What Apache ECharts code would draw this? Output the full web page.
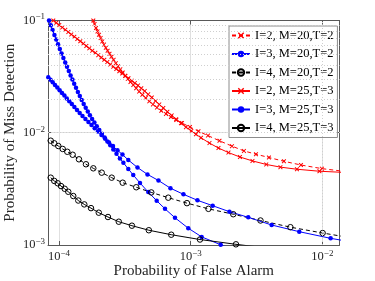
<!DOCTYPE html>
<html><head><meta charset="utf-8">
<script src="https://cdn.jsdelivr.net/npm/echarts@6/dist/echarts.min.js"></script>
<style>html,body{margin:0;padding:0;background:#fff}#c{width:375px;height:281px}</style>
</head><body><div id="c"></div>
<script>
// ---------- data ----------
const seriesNames = ['I=2, M=20,T=2', 'I=3, M=20,T=2', 'I=4, M=20,T=2', 'I=2, M=25,T=3', 'I=3, M=25,T=3', 'I=4, M=25,T=3'];

const pfa_I2M20T2 = [1.822e-4,1.863e-4,1.910e-4,1.960e-4,2.012e-4,2.070e-4,2.132e-4,2.197e-4,2.267e-4,2.339e-4,2.418e-4,2.504e-4,2.597e-4,2.700e-4,2.806e-4,2.921e-4,3.045e-4,3.182e-4,3.330e-4,3.490e-4,3.665e-4,3.856e-4,4.064e-4,4.298e-4,4.561e-4,4.850e-4,5.172e-4,5.548e-4,5.982e-4,6.494e-4,7.086e-4,7.775e-4,8.590e-4,9.878e-4,1.146e-3,1.353e-3,1.655e-3,2.059e-3,2.539e-3,3.132e-3,3.930e-3,5.109e-3,6.879e-3,9.930e-3,1.484e-2];
const pmd_I2M20T2 = [1.000e-1,9.29e-2,8.575e-2,8.00e-2,7.47e-2,6.97e-2,6.51e-2,6.10e-2,5.71e-2,5.38e-2,5.06e-2,4.75e-2,4.46e-2,4.17e-2,3.92e-2,3.67e-2,3.44e-2,3.22e-2,3.02e-2,2.83e-2,2.66e-2,2.49e-2,2.325e-2,2.18e-2,2.04e-2,1.906e-2,1.789e-2,1.675e-2,1.569e-2,1.472e-2,1.380e-2,1.299e-2,1.221e-2,1.125e-2,1.031e-2,9.43e-3,8.48e-3,7.60e-3,6.89e-3,6.44e-3,6.02e-3,5.57e-3,5.16e-3,4.79e-3,4.52e-3];

const pfa_I3M20T2 = [8.40e-5,8.66e-5,8.94e-5,9.23e-5,9.52e-5,9.83e-5,1.014e-4,1.046e-4,1.080e-4,1.115e-4,1.150e-4,1.187e-4,1.225e-4,1.264e-4,1.304e-4,1.346e-4,1.391e-4,1.439e-4,1.487e-4,1.540e-4,1.595e-4,1.654e-4,1.717e-4,1.784e-4,1.857e-4,1.936e-4,2.023e-4,2.117e-4,2.220e-4,2.331e-4,2.452e-4,2.584e-4,2.733e-4,2.900e-4,3.083e-4,3.359e-4,3.665e-4,4.121e-4,4.765e-4,5.520e-4,6.380e-4,7.600e-4,9.589e-4,1.212e-3,1.690e-3,2.495e-3];
const pmd_I3M20T2 = [1.000e-1,9.06e-2,8.21e-2,7.44e-2,6.76e-2,6.14e-2,5.57e-2,5.08e-2,4.63e-2,4.23e-2,3.87e-2,3.54e-2,3.24e-2,2.98e-2,2.735e-2,2.520e-2,2.311e-2,2.121e-2,1.961e-2,1.807e-2,1.668e-2,1.546e-2,1.430e-2,1.328e-2,1.234e-2,1.144e-2,1.059e-2,9.81e-3,9.09e-3,8.37e-3,7.72e-3,7.09e-3,6.49e-3,5.91e-3,5.40e-3,4.76e-3,4.20e-3,3.57e-3,2.96e-3,2.48e-3,2.10e-3,1.749e-3,1.411e-3,1.181e-3,1.005e-3,8.66e-4];

const pfa_I4M20T2 = [8.65e-5,9.21e-5,9.88e-5,1.067e-4,1.156e-4,1.27e-4,1.418e-4,1.603e-4,1.822e-4,2.11e-4,2.513e-4,3.047e-4,3.86e-4,5.02e-4,6.76e-4,9.37e-4,1.365e-3,2.106e-3,3.39e-3,5.72e-3,1.005e-2,1.864e-2];
const pmd_I4M20T2 = [8.50e-3,8.05e-3,7.62e-3,7.17e-3,6.77e-3,6.37e-3,5.80e-3,5.24e-3,4.82e-3,4.41e-3,3.98e-3,3.59e-3,3.27e-3,2.94e-3,2.64e-3,2.36e-3,2.10e-3,1.88e-3,1.653e-3,1.441e-3,1.279e-3,1.131e-3];

const pfa_I2M25T3 = [9.05e-5,9.54e-5,1.005e-4,1.059e-4,1.116e-4,1.177e-4,1.240e-4,1.307e-4,1.377e-4,1.451e-4,1.529e-4,1.612e-4,1.699e-4,1.790e-4,1.887e-4,1.988e-4,2.095e-4,2.208e-4,2.327e-4,2.452e-4,2.584e-4,2.723e-4,2.870e-4,3.024e-4,3.193e-4,3.371e-4,3.559e-4,3.764e-4,3.980e-4,4.216e-4,4.475e-4,4.757e-4,5.066e-4,5.405e-4,5.774e-4,6.194e-4,6.654e-4,7.174e-4,7.762e-4,8.440e-4,9.211e-4,1.011e-3,1.097e-3,1.198e-3,1.389e-3,1.626e-3,1.936e-3,2.367e-3,2.947e-3,3.750e-3,4.806e-3,6.414e-3,9.506e-3,1.484e-2];
const pmd_I2M25T3 = [1.000e-1,9.54e-2,9.10e-2,8.68e-2,8.26e-2,7.88e-2,7.52e-2,7.17e-2,6.84e-2,6.53e-2,6.23e-2,5.93e-2,5.65e-2,5.39e-2,5.15e-2,4.91e-2,4.68e-2,4.47e-2,4.26e-2,4.06e-2,3.88e-2,3.70e-2,3.53e-2,3.37e-2,3.21e-2,3.06e-2,2.91e-2,2.77e-2,2.64e-2,2.49e-2,2.35e-2,2.20e-2,2.06e-2,1.92e-2,1.789e-2,1.662e-2,1.540e-2,1.427e-2,1.320e-2,1.216e-2,1.121e-2,1.036e-2,9.69e-3,9.02e-3,8.09e-3,7.31e-3,6.66e-3,6.08e-3,5.61e-3,5.22e-3,4.94e-3,4.73e-3,4.54e-3,4.43e-3];

const pfa_I3M25T3 = [8.29e-5,8.62e-5,8.96e-5,9.32e-5,9.71e-5,1.011e-4,1.054e-4,1.099e-4,1.146e-4,1.197e-4,1.251e-4,1.309e-4,1.370e-4,1.436e-4,1.508e-4,1.587e-4,1.673e-4,1.766e-4,1.866e-4,1.978e-4,2.102e-4,2.243e-4,2.397e-4,2.571e-4,2.781e-4,3.035e-4,3.359e-4,3.946e-4,4.699e-4,5.695e-4,7.024e-4,8.816e-4,1.126e-3,1.469e-3,1.970e-3,2.737e-3,4.121e-3,6.677e-3,1.156e-2,2.143e-2];
const pmd_I3M25T3 = [3.119e-2,2.962e-2,2.814e-2,2.668e-2,2.525e-2,2.393e-2,2.265e-2,2.143e-2,2.023e-2,1.910e-2,1.800e-2,1.692e-2,1.595e-2,1.496e-2,1.407e-2,1.326e-2,1.247e-2,1.172e-2,1.098e-2,1.028e-2,9.55e-3,8.834e-3,8.188e-3,7.604e-3,6.979e-3,6.389e-3,5.717e-3,4.901e-3,4.256e-3,3.754e-3,3.206e-3,2.829e-3,2.501e-3,2.239e-3,1.980e-3,1.765e-3,1.507e-3,1.314e-3,1.147e-3,1.010e-3];

const pfa_I4M25T3 = [8.65e-5,9.21e-5,9.77e-5,1.036e-4,1.104e-4,1.176e-4,1.284e-4,1.401e-4,1.556e-4,1.75e-4,2.005e-4,2.355e-4,2.845e-4,3.58e-4,4.81e-4,7.12e-4,1.177e-3,2.208e-3,4.76e-3];
const pmd_I4M25T3 = [3.98e-3,3.72e-3,3.55e-3,3.35e-3,3.17e-3,2.98e-3,2.73e-3,2.49e-3,2.30e-3,2.13e-3,1.94e-3,1.776e-3,1.612e-3,1.486e-3,1.354e-3,1.235e-3,1.119e-3,1.014e-3,9.1e-4];

// axis ranges and grid values
const xRange = [8.25e-5, 1.35e-2];
const yRange = [1e-3, 1e-1];
const xMinorGrid = [9e-5, 2e-4, 3e-4, 4e-4, 5e-4, 6e-4, 7e-4, 8e-4, 9e-4, 2e-3, 3e-3, 4e-3, 5e-3, 6e-3, 7e-3, 8e-3, 9e-3];
const yMinorGrid = [2e-3, 3e-3, 4e-3, 5e-3, 6e-3, 7e-3, 8e-3, 9e-3, 2e-2, 3e-2, 4e-2, 5e-2, 6e-2, 7e-2, 8e-2, 9e-2];
const xTitle = 'Probability of False Alarm';
const yTitle = 'Probability of Miss Detection';

// ---------- chart ----------
const FONT = 'Liberation Serif';
const zip = (a, b) => a.map((v, i) => [v, b[i]]);
const X_SYMBOL = 'path://M0,1.5L1.5,0L5,3.5L8.5,0L10,1.5L6.5,5L10,8.5L8.5,10L5,6.5L1.5,10L0,8.5L3.5,5Z';

function tickFmt(v) {
  const e = Math.log10(v), r = Math.round(e);
  if (Math.abs(e - r) > 1e-6) return '';
  return '{b|10}{s|' + (r < 0 ? '\u2212' + (-r) : r) + '}';
}
const labelRich = {
  b: { fontFamily: FONT, fontSize: 12.5, color: '#262626' },
  s: { fontFamily: FONT, fontSize: 9, color: '#262626', padding: [0, 0, 7, 0] }
};
const axisLineStyle = { color: '#595959', width: 1 };

function mk(name, x, y, color, dashed, kind) {
  const s = {
    name, type: 'line', data: zip(x, y), showAllSymbol: true, animation: false, silent: true,
    lineStyle: { color, width: 1, type: dashed ? [4, 3] : 'solid' },
    clip: true, z: 3
  };
  if (kind === 'x') { s.symbol = X_SYMBOL; s.symbolSize = 4.5; s.itemStyle = { color }; }
  else if (kind === 'dot') { s.symbol = 'circle'; s.symbolSize = 4.5; s.itemStyle = { color }; }
  else { s.symbol = 'circle'; s.symbolSize = 5.5; s.itemStyle = { color: 'rgba(255,255,255,0)', borderColor: color, borderWidth: 1 }; }
  return s;
}

const chart = echarts.init(document.getElementById('c'), null, { renderer: 'canvas' });
chart.setOption({
  animation: false,
  backgroundColor: '#fff',
  grid: { left: 48, right: 35.5, top: 20.5, bottom: 36, show: false, outerBoundsMode: 'none', containLabel: false },
  legend: {
    orient: 'vertical', left: 229, top: 26, itemWidth: 18, itemHeight: 8, itemGap: 5.5,
    padding: [3, 4, 3, 2], backgroundColor: '#fff', borderColor: '#8c8c8c', borderWidth: 1,
    textStyle: { fontFamily: FONT, fontSize: 12.5, color: '#000' },
    data: seriesNames
  },
  xAxis: [
    { type: 'log', min: xRange[0], max: xRange[1], position: 'bottom',
      axisLine: { show: true, lineStyle: axisLineStyle },
      axisTick: { show: true, inside: true, length: 4, lineStyle: axisLineStyle },
      axisLabel: { formatter: tickFmt, rich: labelRich, margin: 4 },
      splitLine: { show: true, lineStyle: { color: '#e0e0e0', width: 1 } },
      name: xTitle, nameLocation: 'middle', nameGap: 19, nameMoveOverlap: false,
      nameTextStyle: { fontFamily: FONT, fontSize: 15, color: '#262626' } },
    { type: 'log', min: xRange[0], max: xRange[1], position: 'top',
      axisLine: { show: true, lineStyle: axisLineStyle },
      axisTick: { show: true, inside: true, length: 4, lineStyle: axisLineStyle },
      axisLabel: { show: false }, splitLine: { show: false } }
  ],
  yAxis: [
    { type: 'log', min: yRange[0], max: yRange[1], position: 'left',
      axisLine: { show: true, lineStyle: axisLineStyle },
      axisTick: { show: true, inside: true, length: 4, lineStyle: axisLineStyle },
      axisLabel: { formatter: tickFmt, rich: labelRich, margin: 3 },
      splitLine: { show: true, lineStyle: { color: '#e0e0e0', width: 1 } },
      name: yTitle, nameLocation: 'middle', nameGap: 30, nameRotate: 90, nameMoveOverlap: false,
      nameTextStyle: { fontFamily: FONT, fontSize: 15, color: '#262626' } },
    { type: 'log', min: yRange[0], max: yRange[1], position: 'right',
      axisLine: { show: true, lineStyle: axisLineStyle },
      axisTick: { show: true, inside: true, length: 4, lineStyle: axisLineStyle },
      axisLabel: { show: false }, splitLine: { show: false } }
  ],
  series: [
    { name: '_grid', type: 'line', data: [], silent: true, z: 1,
      markLine: { silent: true, symbol: ['none', 'none'], animation: false, label: { show: false },
        lineStyle: { color: '#cfcfcf', type: [1, 2], width: 1 },
        data: xMinorGrid.map(v => ({ xAxis: v })).concat(yMinorGrid.map(v => ({ yAxis: v }))) } },
    mk(seriesNames[0], pfa_I2M20T2, pmd_I2M20T2, '#ff0000', true, 'x'),
    mk(seriesNames[1], pfa_I3M20T2, pmd_I3M20T2, '#0000ff', false, 'dot'),
    mk(seriesNames[2], pfa_I4M20T2, pmd_I4M20T2, '#000000', true, 'o'),
    mk(seriesNames[3], pfa_I2M25T3, pmd_I2M25T3, '#ff0000', false, 'x'),
    mk(seriesNames[4], pfa_I3M25T3, pmd_I3M25T3, '#0000ff', false, 'dot'),
    mk(seriesNames[5], pfa_I4M25T3, pmd_I4M25T3, '#000000', false, 'o')
  ]
});
</script></body></html>
